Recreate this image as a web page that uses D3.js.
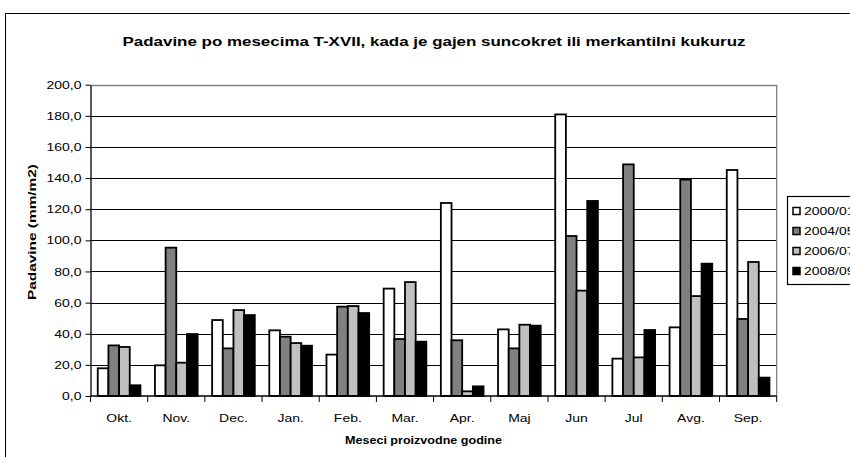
<!DOCTYPE html>
<html><head><meta charset="utf-8">
<script src="https://cdn.jsdelivr.net/npm/d3@7/dist/d3.min.js"></script>
<style>
body{margin:0;background:#fff}
svg{display:block;font-family:"Liberation Sans",Arial,sans-serif}
</style>
</head><body><svg id="c" width="850" height="457"></svg>
<script>
const categories = ["Okt.","Nov.","Dec.","Jan.","Feb.","Mar.","Apr.","Maj","Jun","Jul","Avg.","Sep."];
const seriesNames = ["2000/01","2004/05","2006/07","2008/09"];
const s2000 = [17.8,19.7,48.8,42.2,26.6,69.0,124.0,42.8,180.9,24.0,44.1,145.2];
const s2004 = [32.5,95.3,30.6,38.1,57.4,36.6,35.8,30.6,102.8,148.8,139.0,49.5];
const s2006 = [31.5,21.4,55.2,34.0,57.8,73.2,3.0,45.8,67.7,24.8,64.2,86.1];
const s2008 = [6.9,39.8,52.0,32.3,53.3,34.9,6.2,45.2,125.3,42.4,85.0,11.8];
const yTicks = [0,20,40,60,80,100,120,140,160,180,200];
const yTickLabels = ["0,0","20,0","40,0","60,0","80,0","100,0","120,0","140,0","160,0","180,0","200,0"];
const titleText = "Padavine po mesecima T-XVII, kada je gajen suncokret ili merkantilni kukuruz";
const xTitle = "Meseci proizvodne godine";
const yTitle = "Padavine (mm/m2)";
const colors = ["#ffffff","#808080","#c0c0c0","#000000"];

const seriesValues = [s2000, s2004, s2006, s2008];
const svg = d3.select("#c");
const SX = 1.27;

svg.append("rect").attr("x",0).attr("y",0).attr("width",850).attr("height",457).attr("fill","#fff");
svg.append("rect").attr("x",5.5).attr("y",13.5).attr("width",900).attr("height",500)
  .attr("fill","none").attr("stroke","#000").attr("stroke-width",1);

const L = 90.5, R = 776.7, T = 84.7, B = 396;
const x = d3.scaleBand().domain(categories).range([L, R]).paddingInner(0).paddingOuter(0);
const xs = d3.scaleBand().domain(seriesNames).range([0, x.bandwidth()]).paddingInner(0).paddingOuter(0.68);
const y = d3.scaleLinear().domain([0,200]).range([B, T]);

// gridlines
svg.append("g").selectAll("line").data(yTicks.slice(1, -1)).join("line")
  .attr("x1", L).attr("x2", R).attr("y1", d => Math.round(y(d)) + 0.5).attr("y2", d => Math.round(y(d)) + 0.5)
  .attr("stroke", "#000").attr("stroke-width", 1);
// plot frame (top/right grey)
svg.append("path")
  .attr("d", `M${L},${Math.round(T)+0.5}H${R}V${B}`)
  .attr("fill","none").attr("stroke","#808080").attr("stroke-width",1.3);

// bars
const groups = svg.append("g").selectAll("g").data(categories).join("g")
  .attr("transform", d => `translate(${x(d)},0)`);
groups.selectAll("rect").data((c, i) => seriesNames.map((s, k) => ({s, k, v: seriesValues[k][i]})))
  .join("rect")
  .attr("x", d => xs(d.s)).attr("width", xs.bandwidth())
  .attr("y", d => y(d.v)).attr("height", d => y(0) - y(d.v))
  .attr("fill", d => colors[d.k]).attr("stroke", "#000").attr("stroke-width", 1.8);

// y axis
const yAxis = svg.append("g").attr("transform", `translate(${L},0)`)
  .call(d3.axisLeft(y).tickValues(yTicks).tickFormat((d, i) => yTickLabels[i]).tickSize(5).tickSizeOuter(0));
yAxis.select(".domain").attr("stroke","#000").attr("stroke-width",1.3);
yAxis.selectAll(".tick line").attr("stroke","#000");
yAxis.selectAll(".tick text").attr("x", 0).attr("transform", `translate(-9,0) scale(${SX},1)`)
  .attr("font-size", 11).attr("font-family", "Liberation Sans, Arial, sans-serif").attr("fill","#000");

// x axis line
svg.append("line").attr("x1", L).attr("x2", R).attr("y1", B).attr("y2", B)
  .attr("stroke","#000").attr("stroke-width",1.5);
// boundary ticks
svg.append("g").selectAll("line").data(d3.range(categories.length + 1)).join("line")
  .attr("x1", i => L + i * x.step()).attr("x2", i => L + i * x.step())
  .attr("y1", B).attr("y2", B + 6).attr("stroke","#000").attr("stroke-width",1);
// x labels
svg.append("g").selectAll("text").data(categories).join("text")
  .attr("transform", d => `translate(${x(d) + x.bandwidth()/2},422) scale(${SX},1)`)
  .attr("text-anchor","middle").attr("font-size", 11).attr("fill","#000").text(d => d);

// titles
svg.append("text").attr("x", 434).attr("y", 46).attr("text-anchor","middle")
  .attr("font-size", 13).attr("font-weight","bold").attr("textLength", 623).attr("lengthAdjust","spacingAndGlyphs")
  .text(titleText);
svg.append("text").attr("x", 423.5).attr("y", 444).attr("text-anchor","middle")
  .attr("font-size", 11).attr("font-weight","bold").attr("textLength", 157).attr("lengthAdjust","spacingAndGlyphs")
  .text(xTitle);
svg.append("text").attr("transform","translate(36,232) rotate(-90)").attr("text-anchor","middle")
  .attr("font-size", 11.5).attr("font-weight","bold").attr("textLength", 136).attr("lengthAdjust","spacingAndGlyphs")
  .text(yTitle);

// legend
const lg = svg.append("g");
lg.append("rect").attr("x",787.5).attr("y",196.5).attr("width",90).attr("height",88)
  .attr("fill","#fff").attr("stroke","#000").attr("stroke-width",1.2);
const li = lg.selectAll("g").data(seriesNames).join("g")
  .attr("transform", (d, i) => `translate(0,${211 + i * 20})`);
li.append("rect").attr("x", 793).attr("y", -3.5).attr("width", 7).attr("height", 7)
  .attr("fill", (d, i) => colors[i]).attr("stroke","#000").attr("stroke-width",1.5);
li.append("text").attr("transform", `translate(804,4) scale(${SX},1)`)
  .attr("font-size", 11).attr("fill","#000").text(d => d);
</script>
</body></html>
